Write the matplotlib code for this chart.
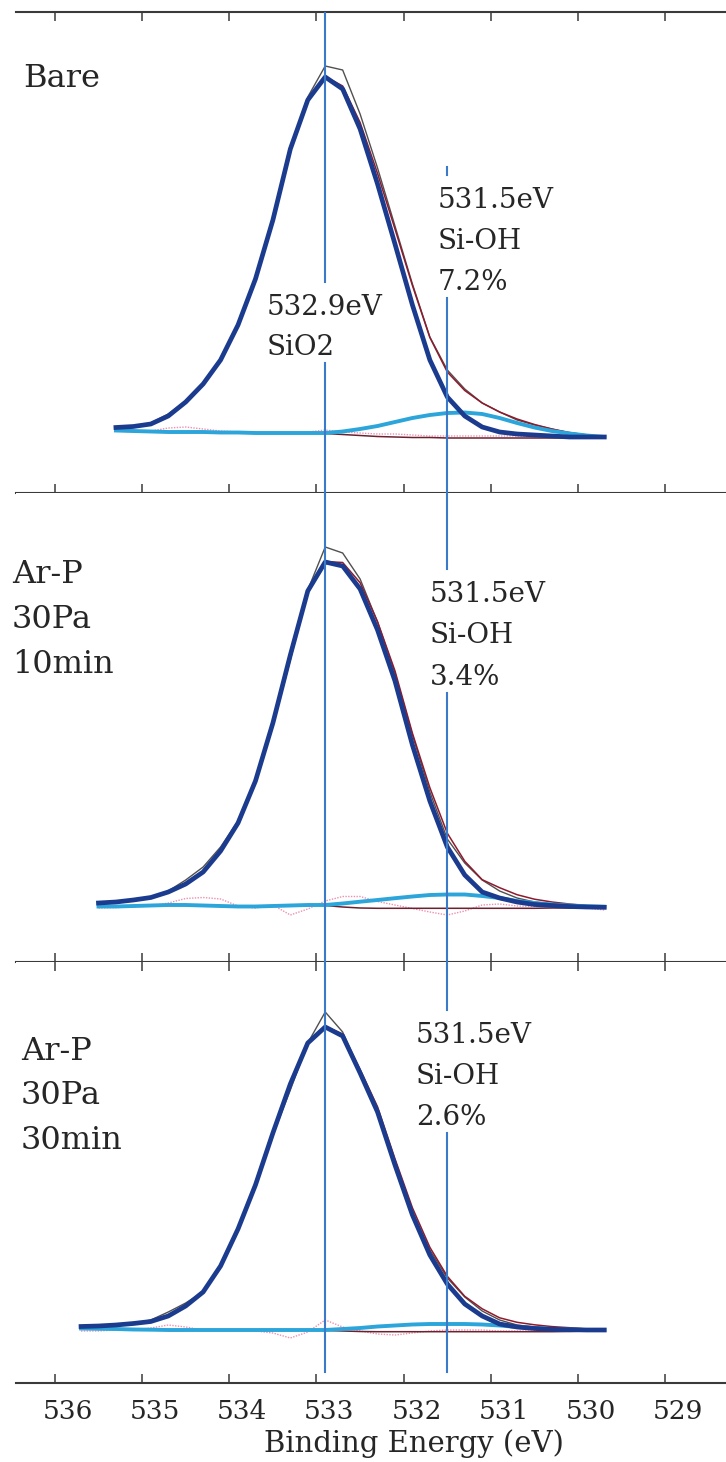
import matplotlib
matplotlib.use('Agg')
import matplotlib.pyplot as plt
import matplotlib.transforms as mtransforms
from matplotlib.lines import Line2D
import numpy as np

plt.rcParams['font.family'] = ['DejaVu Serif']

# binding energy grid (eV), the three spectra start at different points of it
energy = [535.7, 535.5, 535.3, 535.1, 534.9, 534.7, 534.5, 534.3, 534.1, 533.9,
          533.7, 533.5, 533.3, 533.1, 532.9, 532.7, 532.5, 532.3, 532.1, 531.9,
          531.7, 531.5, 531.3, 531.1, 530.9, 530.7, 530.5, 530.3, 530.1, 529.9,
          529.7]

xticks = [536, 535, 534, 533, 532, 531, 530, 529]
peak_sio2 = 532.9
peak_sioh = 531.5

# Bare (from 535.3 eV)
bare_raw = [4, 6, 9, 18, 31, 48, 72, 106, 152, 212, 284, 335, 366, 362, 318,
            264, 206, 148, 95, 62, 43, 29, 20, 12, 7, 3, -1, -3, -5]
bare_sio2 = [4.5, 5.5, 8, 16, 30, 48, 72, 107, 153, 212, 283, 332, 355, 343, 303,
             248, 188, 127, 72, 35, 16, 5, 0, -2, -3, -4, -5, -5, -5]
bare_sioh = [1.5, 1, 0.5, 0, 0, 0, -0.5, -0.5, -1, -1, -1, -1, -1, 0.5, 3,
             6, 10, 14, 17, 19, 19.5, 18, 14, 9, 4.5, 1, -1.5, -3.5, -5]
bare_base = [1.5, 1, 0.5, 0, 0, 0, -0.5, -0.5, -1, -1, -1, -1, -1.5, -2.5, -3.5,
             -4.5, -5, -5.5, -5.5, -6, -6, -6, -6, -6, -6, -6, -6, -5.5, -5.5]
bare_resid = [1, 0, 1, 4, 5, 3, 1, 0, -1, -1, -1, 0, 2, 0, -1,
              -2, -2, -3, -4, -4, -4, -4, -4, -4, -5, -5, -5, -6, -6]

# Ar-P 30Pa 10min (from 535.5 eV)
p10_raw = [2, 3, 4, 7, 14, 25, 38, 58, 84, 124, 180, 245, 315, 358, 352,
           326, 283, 232, 170, 113, 66, 42, 25, 14, 7, 3, 1, -1, -2, -2.5]
p10_sio2 = [2, 3, 5, 7.5, 13, 21, 33, 54, 82, 124, 182, 250, 314, 343, 339,
            316, 275, 224, 160, 104, 58, 30, 13, 7, 3, 0.5, -0.5, -1.5, -2, -2.3]
p10_sioh = [-1.5, -1.5, -1, -0.5, 0, 0, -0.5, -1, -1.5, -1.5, -1, -0.5, 0, 0, 1.5,
            3.3, 5, 6.8, 8.5, 10, 10.5, 10.5, 9, 7, 4, 2, 0.5, -0.5, -1.2, -1.7]
p10_base = [-1.5, -1.5, -1, -0.5, 0, 0, -0.5, -1, -1.5, -1.5, -1, -0.5, 0, -0.5, -2,
            -3, -3.3, -3.3, -3.3, -3.3, -3.3, -3.3, -3.3, -3.3, -3.3, -3.3, -3, -3, -2.5, -2.3]
p10_resid = [-3, -2.5, -2, -1, 2, 6.5, 7.5, 6, -1, -3, 0, -10, -4, 4, 8.5,
             8.5, 3.5, 0, -3.5, -7, -10, -6, 0, 1, -1, -1.5, -1.5, -2, -3, -5]

# Ar-P 30Pa 30min (from 535.7 eV)
p30_raw = [3, 4, 5, 6.5, 10, 18, 27, 38, 63, 100, 144, 195, 240, 287, 318, 298,
           258, 218, 166, 118, 80, 52, 33, 19, 10, 5, 3, 1.5, 0.5, 0, 0]
p30_sio2 = [3.5, 4, 5, 6.5, 8.5, 14, 24, 38, 64, 101, 145, 197, 246, 287, 303, 294,
            257, 218, 165, 115, 75, 46, 26, 14, 6, 3, 1.5, 0.7, 0.3, 0, 0]
p30_sioh = [1.5, 1.2, 1, 0.5, 0.3, 0, 0, 0, 0, 0, 0, 0, 0, 0, 0, 1,
            2, 3.5, 4.5, 5.5, 6, 6, 6, 5.5, 4.5, 3, 2, 1, 0.5, 0, 0]
p30_base = [1.5, 1.2, 1, 0.5, 0.3, 0, 0, 0, 0, 0, 0, 0, 0, 0, -0.5, -1,
            -1.5, -1.7, -1.7, -1.7, -1.7, -1.7, -1.7, -1.7, -1.7, -1.7, -1.7, -1.7, -1.5, -1, -0.5]
p30_resid = [-1, -1, 0, 0, 2, 5, 3, 0, 0, 0, -1, -3, -8, -2, 10, 3,
             -1, -4, -5, -3, -1, 0, 0, 0, -1, -1, -1, -1, -1, -1, -1]

panel_labels = [['Bare'], ['Ar-P', '30Pa', '10min'], ['Ar-P', '30Pa', '30min']]
sioh_share = ['7.2%', '3.4%', '2.6%']

spectra = [
    (2, bare_raw, bare_sio2, bare_sioh, bare_base, bare_resid),
    (1, p10_raw, p10_sio2, p10_sioh, p10_base, p10_resid),
    (0, p30_raw, p30_sio2, p30_sioh, p30_base, p30_resid),
]

W, H = 726, 1462
fig = plt.figure(figsize=(W / 100, H / 100), dpi=100)

# layout in pixels from the top of the image
edges = [12, 493, 962, 1383]
zero_px = [432, 905, 1330]
left_px = 16
frame = '#3a3a3a'
txt = '#262626'

axes = []
for i, (start, raw, sio2, sioh, base, resid) in enumerate(spectra):
    top, bot = edges[i], edges[i + 1]
    ax = fig.add_axes([left_px / W, 1 - bot / H, 1 - left_px / W, (bot - top) / H])
    ax.set_xlim(536.446, 528.304)
    ax.set_ylim(zero_px[i] - bot, zero_px[i] - top)

    e = np.array(energy[start:])
    raw, sio2, sioh, base, resid = [np.array(a, dtype=float) for a in (raw, sio2, sioh, base, resid)]
    envelope = sio2 + sioh - base

    ax.plot(e, resid, color='#ee8fb2', lw=1.0, ls=(0, (1, 1)))
    ax.plot(e, base, color='#6a2230', lw=1.1)
    ax.plot(e, raw, color='#505050', lw=1.0)
    ax.plot(e, envelope, color='#8e1b2d', lw=1.1)
    ax.plot(e, sioh, color='#2ba5da', lw=2.8)
    ax.plot(e, sio2, color='#1b3b8e', lw=3.4)

    ax.spines['left'].set_visible(False)
    ax.spines['right'].set_visible(False)
    ax.spines['top'].set_visible(i == 0)
    for s in ['top', 'bottom']:
        ax.spines[s].set_color(frame)
        ax.spines[s].set_linewidth(1.5)
    ax.set_yticks([])
    ax.set_xticks(xticks)
    ax.tick_params(axis='x', direction='in', length=6.5, width=1.1, colors=frame,
                   top=(i != 1), bottom=True, labelbottom=(i == 2), labelsize=19,
                   labelcolor=txt, pad=11.5)
    axes.append(ax)

# tick labels sit a little right of their ticks in the original
shift = mtransforms.ScaledTranslation(13 / 100, 0, fig.dpi_scale_trans)
for lab in axes[2].get_xticklabels():
    lab.set_transform(lab.get_transform() + shift)

fig.text(414 / W, 1 - 1452 / H, 'Binding Energy (eV)', fontsize=21,
         ha='center', va='baseline', color=txt)


def put(x, y, s, size):
    return fig.text(x / W, 1 - y / H, s, fontsize=size, ha='left',
                    va='baseline', color=txt, zorder=5)


# sample labels
label_pos = [(23, [87]), (12, [583, 628, 673]), (21, [1060, 1104, 1149])]
for lines, (x, ys) in zip(panel_labels, label_pos):
    for s, y in zip(lines, ys):
        put(x, y, s, 23)

# peak annotations
notes = []
sioh_pos = [(438, [208, 249, 290]), (430, [602, 643, 685]), (416, [1043, 1084, 1125])]
for share, (x, ys) in zip(sioh_share, sioh_pos):
    for s, y in zip([f'{peak_sioh}eV', 'Si-OH', share], ys):
        notes.append(put(x, y, s, 20))
for s, y in zip([f'{peak_sio2}eV', 'SiO2'], [315, 355]):
    notes.append(put(267, y, s, 20))

# vertical peak markers, broken where the annotations sit
fig.canvas.draw()
renderer = fig.canvas.get_renderer()
boxes = [t.get_window_extent(renderer) for t in notes]

for energy_mark, y_start in [(peak_sio2, 13), (peak_sioh, 167)]:
    xpix = axes[0].transData.transform((energy_mark, 0))[0]
    gaps = []
    for bb in boxes:
        if bb.x0 <= xpix <= bb.x1:
            gaps.append((H - bb.y1 - 12, H - bb.y0 + 2))
    gaps.sort()
    # merge overlapping gaps
    merged = []
    for g in gaps:
        if merged and g[0] <= merged[-1][1] + 4:
            merged[-1] = (merged[-1][0], max(merged[-1][1], g[1]))
        else:
            merged.append(g)
    y0 = y_start
    pieces = []
    for g0, g1 in merged:
        pieces.append((y0, g0))
        y0 = g1
    pieces.append((y0, 1372))
    for a, b in pieces:
        if b > a:
            fig.add_artist(Line2D([xpix / W, xpix / W], [1 - a / H, 1 - b / H],
                                  transform=fig.transFigure, color='#3b79c9',
                                  lw=1.5, zorder=4))

fig.savefig('out.png', dpi=100)
